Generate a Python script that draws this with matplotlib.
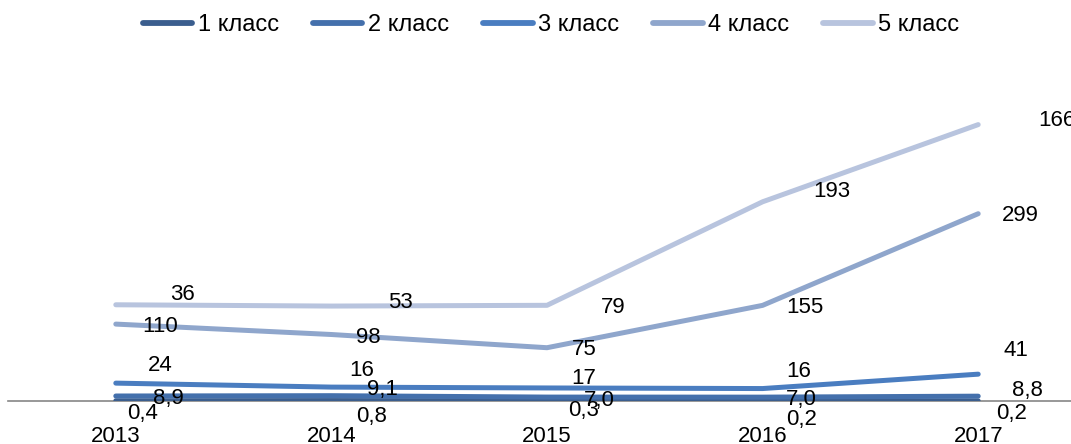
import numpy as np
import matplotlib.pyplot as plt

plt.rcParams['font.family'] = ['Liberation Sans', 'DejaVu Sans']

# Data
years = ['2013', '2014', '2015', '2016', '2017']
series_names = ['1 класс', '2 класс', '3 класс', '4 класс', '5 класс']
class1 = [0.4, 0.8, 0.3, 0.2, 0.2]
class2 = [8.9, 9.1, 7.0, 7.0, 8.8]
class3 = [24, 16, 17, 16, 41]
class4 = [110, 98, 75, 155, 299]
class5 = [36, 53, 79, 193, 166]

colors = ['#3B5E8E', '#4470AC', '#4A7DC0', '#8FA6CC', '#B8C4DE']

# label offsets in pixels (dx, dy; dy positive = up), per series and year
label_offsets = [
    [(27, -13), (40, -16), (37, -10), (39, -19), (33, -13)],
    [(53, -2), (51, 6), (52, -3), (39, -2), (49, 6)],
    [(44, 18), (30, 17), (37, 9), (36, 17), (38, 24)],
    [(44, -2), (37, -3), (37, -2), (42, -2), (42, -2)],
    [(67, 10), (69, 4), (66, -2), (69, 10), (79, 4)],
]


def fmt(v):
    if v < 10:
        return f"{v:.1f}".replace('.', ',')
    return f"{v:.0f}"


fig = plt.figure(figsize=(10.71, 4.44), dpi=100)
W, H = 1071, 444
ax = fig.add_axes([8 / W, 43 / H, 1078 / W, 322 / H])

x = np.arange(len(years))
data = [class1, class2, class3, class4, class5]
cum = np.cumsum(np.array(data, dtype=float), axis=0)

for i, (name, vals) in enumerate(zip(series_names, data)):
    ax.plot(x, cum[i], color=colors[i], lw=3.6, solid_capstyle='round',
            label=name, zorder=2 + i)
    for j, v in enumerate(vals):
        dx, dy = label_offsets[i][j]
        ax.annotate(fmt(v), (x[j], cum[i][j]), xytext=(dx, dy),
                    textcoords='offset pixels', ha='center', va='center',
                    fontsize=16, color='black', zorder=10,
                    annotation_clip=False)

ax.set_xlim(-0.5, 4.5)
ax.set_ylim(0, 600)
ax.set_xticks(x)
ax.set_xticklabels(years, fontsize=16)
ax.tick_params(axis='x', length=0, pad=18)
ax.set_yticks([])
for s in ['top', 'right', 'left']:
    ax.spines[s].set_visible(False)
ax.spines['bottom'].set_color('#868686')
ax.spines['bottom'].set_linewidth(1.2)
ax.spines['bottom'].set_zorder(1)

leg = fig.legend(loc='center', bbox_to_anchor=(551 / W, 1 - 25 / H), ncol=5,
                 frameon=False, fontsize=17, handlelength=2.1,
                 handletextpad=0.22, columnspacing=1.45)
for h in leg.legend_handles:
    h.set_linewidth(4.2)

fig.savefig('out.png', dpi=100)
